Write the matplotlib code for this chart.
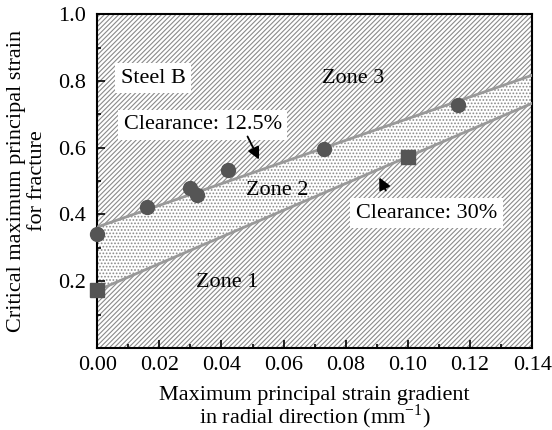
import matplotlib.pyplot as plt
import numpy as np

plt.rcParams['font.family'] = ['Liberation Serif', 'DejaVu Serif']
plt.rcParams['mathtext.fontset'] = 'custom'
plt.rcParams['mathtext.rm'] = 'Liberation Serif'
plt.rcParams['hatch.color'] = '#8a8a8a'
plt.rcParams['hatch.linewidth'] = 0.8

# clearance 12.5% (circles)
x_125 = [0.0, 0.016, 0.030, 0.032, 0.042, 0.073, 0.116]
y_125 = [0.340, 0.423, 0.479, 0.458, 0.533, 0.595, 0.728]
# clearance 30% (squares)
x_30 = [0.0, 0.100]
y_30 = [0.172, 0.573]

# zone boundaries (ends at x=0 and x=0.14)
bound_x = [0.0, 0.14]
upper_y = [0.362, 0.817]
lower_y = [0.172, 0.733]

fig = plt.figure(figsize=(5.52, 4.30), dpi=100)
ax = fig.add_axes([0.176, 0.191, 0.788, 0.776])

xs = np.array(bound_x)
ax.fill_between(xs, 0, lower_y, facecolor='white', hatch='///////', linewidth=0)
ax.fill_between(xs, lower_y, upper_y, facecolor='white', hatch='.....', linewidth=0)
ax.fill_between(xs, upper_y, 1.0, facecolor='white', hatch='///////', linewidth=0)

ax.plot(bound_x, upper_y, color='#999999', lw=2, zorder=3)
ax.plot(bound_x, lower_y, color='#999999', lw=2, zorder=3)

ax.plot(x_125, y_125, 'o', color='#555555', ms=10, zorder=5, clip_on=False)
ax.plot(x_30, y_30, 's', color='#555555', ms=10, zorder=5, clip_on=False)

fs = 16
box = dict(facecolor='white', edgecolor='none', pad=4)
ax.text(0.018, 0.808, 'Steel B', fontsize=fs, ha='center', va='center', bbox=box)
ax.text(0.034, 0.668, 'Clearance: 12.5%', fontsize=fs, ha='center', va='center', bbox=box)
ax.text(0.106, 0.404, 'Clearance: 30%', fontsize=fs, ha='center', va='center', bbox=box)
ax.text(0.0824, 0.808, 'Zone 3', fontsize=fs, ha='center', va='center')
ax.text(0.058, 0.473, 'Zone 2', fontsize=fs, ha='center', va='center')
ax.text(0.042, 0.195, 'Zone 1', fontsize=fs, ha='center', va='center')

arrow = dict(arrowstyle='-|>', color='black', lw=1.3, mutation_scale=18)
ax.annotate('', xy=(0.0525, 0.557), xytext=(0.048, 0.641), arrowprops=arrow)
ax.annotate('', xy=(0.0904, 0.518), xytext=(0.0933, 0.464), arrowprops=arrow)

ax.set_xlim(0, 0.14)
ax.set_ylim(0, 1.0)
ax.set_xticks(np.arange(0, 0.141, 0.02))
ax.set_xticks(np.arange(0, 0.141, 0.01), minor=True)
ax.set_yticks([0.2, 0.4, 0.6, 0.8, 1.0])
ax.set_yticks(np.arange(0, 1.01, 0.1), minor=True)
ax.set_xticklabels(['0.00', '0.02', '0.04', '0.06', '0.08', '0.10', '0.12', '0.14'])
ax.tick_params(which='both', direction='in', labelsize=fs, width=1.2)
ax.tick_params(axis='x', pad=6)
ax.tick_params(axis='y', pad=8)
ax.tick_params(which='major', length=6)
ax.tick_params(which='minor', length=3)
for s in ax.spines.values():
    s.set_linewidth(1.5)

ax.set_xlabel('Maximum principal strain gradient\nin radial direction (mm$^{-1}$)',
              fontsize=fs, linespacing=0.88, labelpad=8)
ax.set_ylabel('Critical maximum principal strain\nfor fracture', fontsize=fs,
              linespacing=1.15, labelpad=8)

fig.savefig('out.png', dpi=100)
